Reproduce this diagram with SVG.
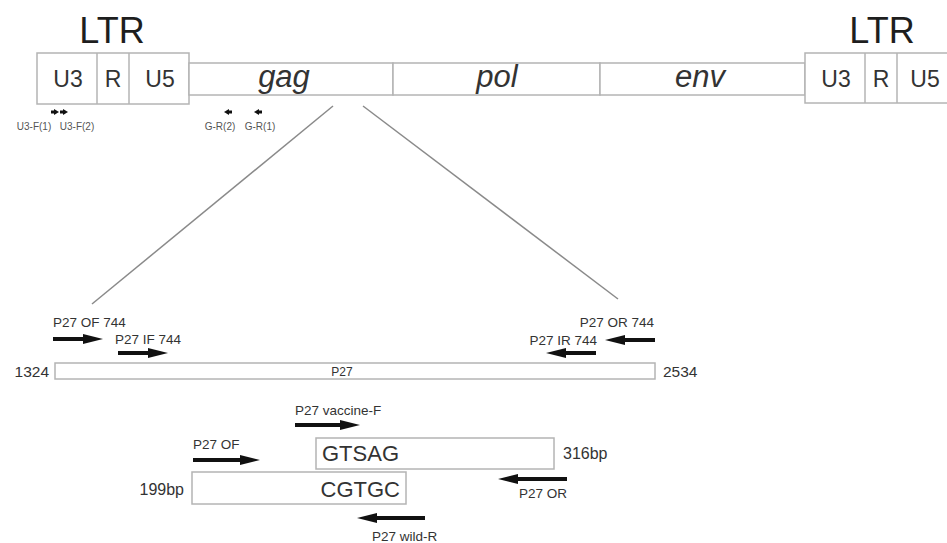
<svg xmlns="http://www.w3.org/2000/svg" width="947" height="543" viewBox="0 0 947 543">
<style>
text{font-family:"Liberation Sans",Arial,sans-serif;fill:#333}
.box{fill:#fff;stroke:#b4b4b4;stroke-width:1.5}
.ltr{font-size:36px;fill:#1e1e1e;text-anchor:middle}
.seg{font-size:23px;text-anchor:middle}
.gene{font-size:31px;font-style:italic;text-anchor:middle}
.tiny{font-size:10px;fill:#555;text-anchor:middle}
.lbl{font-size:13.5px}
.num{font-size:15.5px}
.bp{font-size:16px}
.seq{font-size:22px}
.zoom{stroke:#8a8a8a;stroke-width:1.5;fill:none}
.pr{stroke:#111;stroke-width:4;fill:none;marker-end:url(#head)}
.sp{stroke:#111;stroke-width:3;fill:none;marker-end:url(#shead)}
</style>
<defs>
<marker id="head" markerUnits="userSpaceOnUse" markerWidth="20" markerHeight="10" viewBox="0 0 20 10" refX="1" refY="5" orient="auto"><path d="M0,0 L20,5 L0,10 z" fill="#111"/></marker>
<marker id="shead" markerUnits="userSpaceOnUse" markerWidth="5" markerHeight="6" viewBox="0 0 5 6" refX="1" refY="3" orient="auto"><path d="M0,0 L5,3 L0,6 z" fill="#111"/></marker>
</defs>

<g id="ltr-left">
<text class="ltr" x="112" y="43">LTR</text>
<rect class="box" x="37" y="53" width="152" height="51"/>
<line class="box" x1="97" y1="53" x2="97" y2="104"/>
<line class="box" x1="129" y1="53" x2="129" y2="104"/>
<text class="seg" x="68" y="87">U3</text>
<text class="seg" x="113" y="87">R</text>
<text class="seg" x="160" y="87">U5</text>
</g>

<g id="gag">
<rect class="box" x="189" y="63" width="204" height="32"/>
<text class="gene" x="284" y="87">gag</text>
</g>
<g id="pol">
<rect class="box" x="393" y="63" width="207" height="32"/>
<text class="gene" x="497" y="87">pol</text>
</g>
<g id="env">
<rect class="box" x="600" y="63" width="205" height="32"/>
<text class="gene" x="700" y="87">env</text>
</g>

<g id="ltr-right">
<text class="ltr" x="882" y="43">LTR</text>
<rect class="box" x="805" y="53" width="160" height="50"/>
<line class="box" x1="865" y1="53" x2="865" y2="103"/>
<line class="box" x1="897" y1="53" x2="897" y2="103"/>
<text class="seg" x="836" y="87">U3</text>
<text class="seg" x="881" y="87">R</text>
<text class="seg" x="925" y="87">U5</text>
</g>

<g id="small-primers">
<line class="sp" x1="51" y1="112" x2="55" y2="112"/>
<line class="sp" x1="60" y1="112" x2="64" y2="112"/>
<line class="sp" x1="232" y1="112" x2="228" y2="112"/>
<line class="sp" x1="262" y1="112" x2="258" y2="112"/>
<text class="tiny" x="34" y="130">U3-F(1)</text>
<text class="tiny" x="77" y="130">U3-F(2)</text>
<text class="tiny" x="220" y="130">G-R(2)</text>
<text class="tiny" x="260" y="130">G-R(1)</text>
</g>

<g id="connectors">
<line class="zoom" x1="333" y1="106" x2="92" y2="304"/>
<line class="zoom" x1="363" y1="106" x2="618" y2="299"/>
</g>

<g id="p27">
<rect class="box" x="55" y="363" width="600" height="16"/>
<text x="342" y="376" style="font-size:12px" text-anchor="middle">P27</text>
<text class="num" x="49" y="377" text-anchor="end">1324</text>
<text class="num" x="663" y="377">2534</text>
</g>

<g id="outer-primers">
<text class="lbl" x="53" y="327">P27 OF 744</text>
<line class="pr" x1="53" y1="339" x2="84" y2="339"/>
<text class="lbl" x="115" y="344">P27 IF 744</text>
<line class="pr" x1="118" y1="353" x2="149" y2="353"/>
<text class="lbl" x="654" y="327" text-anchor="end">P27 OR 744</text>
<line class="pr" x1="655" y1="340" x2="624" y2="340"/>
<text class="lbl" x="597" y="345" text-anchor="end">P27 IR 744</text>
<line class="pr" x1="596" y1="353" x2="565" y2="353"/>
</g>

<g id="vaccine">
<text class="lbl" x="295" y="415">P27 vaccine-F</text>
<line class="pr" x1="295" y1="425" x2="341" y2="425"/>
<rect class="box" x="316" y="438" width="238" height="31"/>
<text class="seq" x="322" y="461">GTSAG</text>
<text class="bp" x="563" y="459">316bp</text>
<line class="pr" x1="567" y1="479" x2="517" y2="479"/>
<text class="lbl" x="567" y="498" text-anchor="end">P27 OR</text>
</g>

<g id="wild">
<text class="lbl" x="193" y="449">P27 OF</text>
<line class="pr" x1="193" y1="460" x2="241" y2="460"/>
<rect class="box" x="192" y="472" width="214" height="32"/>
<text class="seq" x="400" y="497" text-anchor="end">CGTGC</text>
<text class="bp" x="184" y="495" text-anchor="end">199bp</text>
<line class="pr" x1="425" y1="518" x2="376" y2="518"/>
<text class="lbl" x="372" y="541">P27 wild-R</text>
</g>
</svg>
